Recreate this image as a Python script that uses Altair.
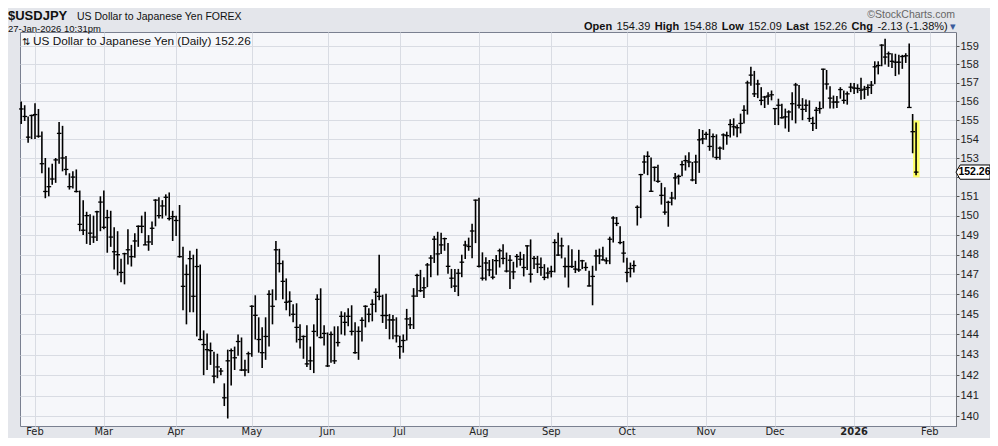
import altair as alt
import pandas as pd

# ---- data (USD/JPY daily) ----
highs = [
 156.0,155.8,155.2,155.3,155.9,155.6,154.4,153.0,152.5,152.7,153.0,154.9,154.7,153.1,152.2,152.3,152.4,151.3,150.8,150.2,
 150.07,150.0,150.25,151.0,151.3,150.3,150.25,149.4,149.2,147.8,148.1,149.3,148.5,149.1,149.5,150.0,150.2,149.0,149.7,150.85,
 150.95,150.8,151.1,151.2,150.25,150.0,150.55,148.4,147.5,148.2,148.0,148.3,147.5,144.2,144.05,143.6,143.15,143.05,142.35,141.6,
 143.25,143.3,143.4,144.0,143.85,142.75,143.15,145.45,145.95,144.85,144.35,144.85,146.2,146.25,148.7,148.3,147.7,146.8,146.15,145.5,
 145.55,144.5,143.95,144.45,143.4,144.5,146.0,146.3,144.45,144.1,144.15,144.4,144.4,145.15,145.1,145.3,145.45,144.6,144.4,144.85,
 145.45,145.3,145.75,146.3,148.0,145.98,146.03,145.02,144.97,144.85,143.93,144.0,145.27,144.85,146.31,147.03,147.23,146.86,147.58,147.98,
 148.96,149.17,149.12,148.87,148.59,147.28,147.28,147.28,148.0,148.71,148.87,149.58,150.83,150.92,148.12,147.87,147.73,147.78,147.98,148.31,
 148.53,148.11,147.98,147.64,148.03,148.15,148.03,148.48,148.78,147.94,147.94,147.86,147.52,147.35,147.44,148.79,149.12,148.87,147.86,148.48,
 148.28,147.69,148.25,147.74,147.61,147.18,147.44,148.25,148.31,148.41,147.86,148.92,149.97,149.93,149.46,148.7,147.85,147.6,147.7,150.53,
 152.17,153.14,153.35,153.03,152.55,152.65,151.7,151.47,150.77,151.23,152.22,152.13,152.86,153.14,153.3,152.79,153.17,154.53,154.48,154.39,
 154.53,154.3,154.25,153.61,154.3,154.39,155.05,155.1,154.77,155.35,155.8,157.12,157.88,157.65,157.17,156.77,156.3,156.5,156.59,155.65,
 156.15,155.88,155.62,155.53,156.5,157.0,156.89,156.18,156.11,156.06,155.18,155.71,156.0,157.77,157.7,156.82,156.32,156.29,156.77,156.59,
 156.54,157.0,157.0,156.93,157.28,156.84,156.93,157.1,158.17,158.17,159.1,159.4,158.7,158.61,158.58,158.52,158.52,158.61,159.14,155.33,
 154.88]
lows = [
 154.8,154.96,153.8,154.0,154.0,154.07,152.2,150.9,151.0,151.6,151.7,152.7,152.3,152.1,151.35,151.4,151.2,149.2,149.0,148.55,
 148.5,148.6,148.7,149.2,149.3,148.1,148.4,147.25,146.95,146.6,146.5,147.5,147.4,147.85,148.4,149.1,148.5,148.2,148.5,149.45,
 149.85,149.85,150.0,149.75,148.7,148.95,147.85,145.2,144.5,145.1,145.1,143.9,143.7,142.0,142.25,142.5,141.6,141.85,142.0,140.5,
 139.9,141.5,142.25,142.95,142.2,141.95,142.1,142.9,143.75,143.1,142.35,142.75,143.4,144.5,145.7,147.1,145.75,145.2,144.9,144.6,
 143.6,143.3,142.8,142.4,142.25,142.1,143.9,143.8,143.45,142.4,142.6,142.55,143.4,144.0,143.95,144.4,143.95,143.05,142.75,143.65,
 144.35,144.6,144.65,145.1,145.7,144.57,144.27,143.76,143.76,143.6,142.8,143.1,143.7,144.27,144.27,145.86,146.11,145.81,146.36,146.86,
 147.58,146.95,148.04,148.2,147.03,146.31,146.11,145.91,146.86,147.78,148.2,147.82,148.59,147.35,146.69,146.69,146.91,146.75,146.98,147.35,
 147.52,147.1,146.26,146.76,147.35,147.44,146.9,147.23,146.59,147.27,147.07,146.93,146.71,146.8,146.85,147.1,147.94,147.81,146.85,146.34,
 147.32,147.07,147.13,147.27,147.18,146.39,145.45,147.18,147.52,147.7,147.52,147.52,148.62,149.46,148.53,147.6,146.6,146.85,147.1,149.49,
 149.87,152.17,152.1,151.23,151.78,151.7,150.57,150.04,149.43,150.53,150.83,151.61,152.04,152.34,152.51,151.78,151.64,152.22,153.73,153.96,
 153.38,153.03,152.91,152.91,153.43,153.7,154.08,154.18,154.1,154.3,154.83,155.3,156.85,156.24,156.18,155.8,155.65,155.83,156.06,154.74,
 154.74,155.09,154.56,154.38,155.0,154.83,155.62,155.0,155.44,154.91,154.42,154.53,155.35,155.62,156.64,155.62,155.62,155.65,156.15,155.88,
 155.83,156.5,156.4,156.45,156.1,156.13,156.31,156.4,156.93,157.46,157.9,158.0,157.87,157.81,157.37,157.46,157.76,158.08,155.66,153.25,
 152.09]
closes = [
 155.6,155.2,154.1,155.25,155.3,154.15,152.7,151.25,151.5,151.9,152.9,154.3,153.0,152.4,151.5,152.0,151.25,149.55,149.25,150.0,
 149.1,148.9,150.2,150.7,149.4,149.9,148.9,148.15,148.0,147.1,148.05,148.25,147.9,148.7,149.45,149.45,148.5,148.65,149.35,150.8,
 150.0,150.5,150.95,149.85,149.95,149.75,147.9,146.4,147.0,147.8,145.9,147.4,143.75,143.5,143.25,143.2,141.95,142.4,142.2,140.9,
 142.7,143.2,142.85,143.65,142.25,142.25,143.05,145.4,144.95,143.75,143.1,143.9,146.0,145.4,148.25,147.55,146.65,145.6,145.65,145.0,
 144.35,143.75,143.9,142.55,142.7,144.15,145.75,143.85,144.05,142.45,144.0,142.7,143.6,144.9,144.6,144.9,144.15,143.1,144.15,144.7,
 145.4,145.0,145.5,146.1,145.9,144.94,144.94,144.72,144.72,143.93,143.4,143.7,144.77,144.48,145.91,146.95,146.18,146.33,147.48,147.83,
 148.79,148.04,148.5,148.82,147.41,146.81,146.41,147.06,147.62,148.49,148.42,149.21,150.8,147.41,146.81,147.58,147.23,146.86,147.7,148.2,
 147.81,147.17,147.72,147.13,147.91,147.77,147.35,148.45,147.01,147.81,147.52,147.35,146.85,147.07,147.15,148.62,147.98,148.45,147.4,147.4,
 147.4,147.27,147.23,147.69,147.35,146.42,146.9,147.94,147.94,147.74,147.69,148.79,149.88,149.6,148.62,148.08,147.1,147.3,147.45,150.43,
 152.13,152.79,153.09,151.26,152.51,151.78,151.05,150.18,150.69,150.91,151.96,152.04,152.65,152.86,152.79,151.85,152.79,153.96,154.01,154.25,
 153.61,154.13,153.03,153.52,154.22,154.18,154.77,154.65,154.6,154.83,155.53,157.0,157.42,156.41,156.94,156.06,156.24,156.29,156.36,155.62,
 155.8,155.13,155.18,155.44,155.88,156.89,155.8,155.58,155.8,155.09,154.83,155.53,155.62,157.74,156.94,156.18,155.97,155.97,156.64,156.06,
 156.41,156.77,156.72,156.7,156.61,156.66,156.75,156.88,157.87,157.94,159.05,158.4,158.58,158.17,158.12,158.12,158.43,158.47,155.68,154.39,
 152.26]

y_ticks = list(range(140, 160))
# header quote line: (text, bold)
header_pieces = [
    ("Open", True), ("154.39", False), ("High", True), ("154.88", False),
    ("Low", True), ("152.09", False), ("Last", True), ("152.26", False),
    ("Chg", True), ("-2.13 (-1.38%)", False),
]
# x positions (plot px) of the pieces above, laid out left to right
header_x = [564, 596.6, 634.7, 663.6, 701.7, 728.2, 766.3, 793.4, 831.5, 857.4]

# ---- frames ----
n = len(closes)
dates = pd.bdate_range("2025-01-28", periods=n)
df = pd.DataFrame({"idx": list(range(n)), "date": dates.strftime("%Y-%m-%d"),
                   "high": highs, "low": lows, "close": closes})

ext = pd.bdate_range("2025-01-28", periods=272)
months = []
prev = None
for i, d in enumerate(ext):
    key = (d.year, d.month)
    if prev is not None and key != prev:
        months.append({"idx": i, "label": "2026" if d.month == 1 else d.strftime("%b"),
                       "bold": d.month == 1})
    prev = key
mdf = pd.DataFrame(months)
month_idx = mdf["idx"].tolist()

W, H = 936, 394
NARROW = "DejaVu Sans Condensed, Liberation Sans Narrow, sans-serif"
SANS = "Liberation Sans, Arial, sans-serif"

xscale = alt.Scale(domain=[-0.36, 271.6], nice=False, zero=False)
yscale = alt.Scale(type="log", domain=[139.54, 159.77], nice=False, zero=False)

xenc = alt.X("idx:Q", scale=xscale,
             axis=alt.Axis(values=month_idx, labels=False, ticks=False, domain=False,
                           grid=True, gridColor="#D9DCE3", title=None))
yaxis = alt.Axis(orient="right", values=y_ticks, format="d", title=None, grid=True,
                 gridColor="#D9DCE3", tickSize=3, tickColor="#555", labelPadding=1,
                 labelExpr="datum.value == 152 ? '' : datum.label",
                 labelFont=SANS, labelFontSize=11, labelColor="#222",
                 domain=True, domainColor="#666", domainDash=[1, 1])

base = alt.Chart(df)

last = df.iloc[[n - 1]]
highlight = alt.Chart(last).mark_rect(color="#FFFF66", xOffset=-3, x2Offset=3.5,
                                      yOffset=-2, y2Offset=2).encode(
    x=xenc, x2="idx:Q", y=alt.Y("high:Q", scale=yscale, axis=yaxis), y2="low:Q")

bars = base.mark_rule(color="#000", strokeWidth=1.6).encode(
    x=xenc, y=alt.Y("low:Q", scale=yscale, axis=yaxis), y2="high:Q")

ticks = base.mark_rule(color="#000", strokeWidth=1.3, xOffset=-2.2, x2Offset=2.4).encode(
    x=xenc, x2="idx:Q", y=alt.Y("close:Q", scale=yscale, axis=yaxis))

month_norm = alt.Chart(mdf[~mdf["bold"]]).mark_text(
    font=NARROW, fontSize=11, color="#222", baseline="middle").encode(
    x=alt.X("idx:Q", scale=xscale), y=alt.value(H + 6), text="label:N")
month_bold = alt.Chart(mdf[mdf["bold"]]).mark_text(
    font=NARROW, fontSize=11, fontWeight="bold", color="#222", baseline="middle").encode(
    x=alt.X("idx:Q", scale=xscale), y=alt.value(H + 6), text="label:N")


def txt(s, x, y, size=11, bold=False, font=SANS, color="#111", align="left"):
    return alt.Chart(alt.Data(values=[{"a": 1}])).mark_text(
        text=s, font=font, fontSize=size, fontWeight="bold" if bold else "normal",
        color=color, align=align, baseline="alphabetic").encode(
        x=alt.value(x), y=alt.value(y))


texts = [
    txt("$USDJPY", -12, -12, size=13, bold=True),
    txt("US Dollar to Japanese Yen FOREX", 57, -12, size=10.5),
    txt("\u00a9StockCharts.com", 935, -14, size=10.5, color="#666", align="right"),
    txt("27-Jan-2026 10:31pm", -12, -0.5, size=9.5),
    txt("\u21c5", 2, 13, size=10),
    txt("US Dollar to Japanese Yen (Daily) 152.26", 13, 13, size=11.8),
    txt("\u25be", 930, -2, size=11, color="#3b5b9b"),
]
for (s, b), x in zip(header_pieces, header_x):
    texts.append(txt(s, x, -2, size=11, bold=b))

tag_shape = "M -1 0 L -0.76 -0.42 L 1 -0.42 L 1 0.42 L -0.76 0.42 Z"
tag = alt.Chart(last).mark_point(shape=tag_shape, filled=True, fill="white", stroke="#000",
                                 strokeWidth=1, size=1156, opacity=1).encode(
    x=alt.value(953), y=alt.Y("close:Q", scale=yscale, axis=yaxis))
tag_text = alt.Chart(last).mark_text(font=SANS, fontSize=10.5, fontWeight="bold", color="#000",
                                     baseline="middle", align="center").encode(
    x=alt.value(954.5), y=alt.Y("close:Q", scale=yscale, axis=yaxis),
    text=alt.Text("close:Q", format=".2f"))

chart = alt.layer(highlight, bars, ticks, month_norm, month_bold, tag, tag_text, *texts).properties(
    width=W, height=H,
    padding={"left": 12, "top": 24, "right": 34, "bottom": 12},
    autosize=alt.AutoSizeParams(type="none"),
    background="#E4E6EB",
).configure_view(fill="#F6F7FA", stroke="#7A8090", strokeWidth=1)

chart.save("out.html", embed_options={"renderer": "svg", "actions": False})
